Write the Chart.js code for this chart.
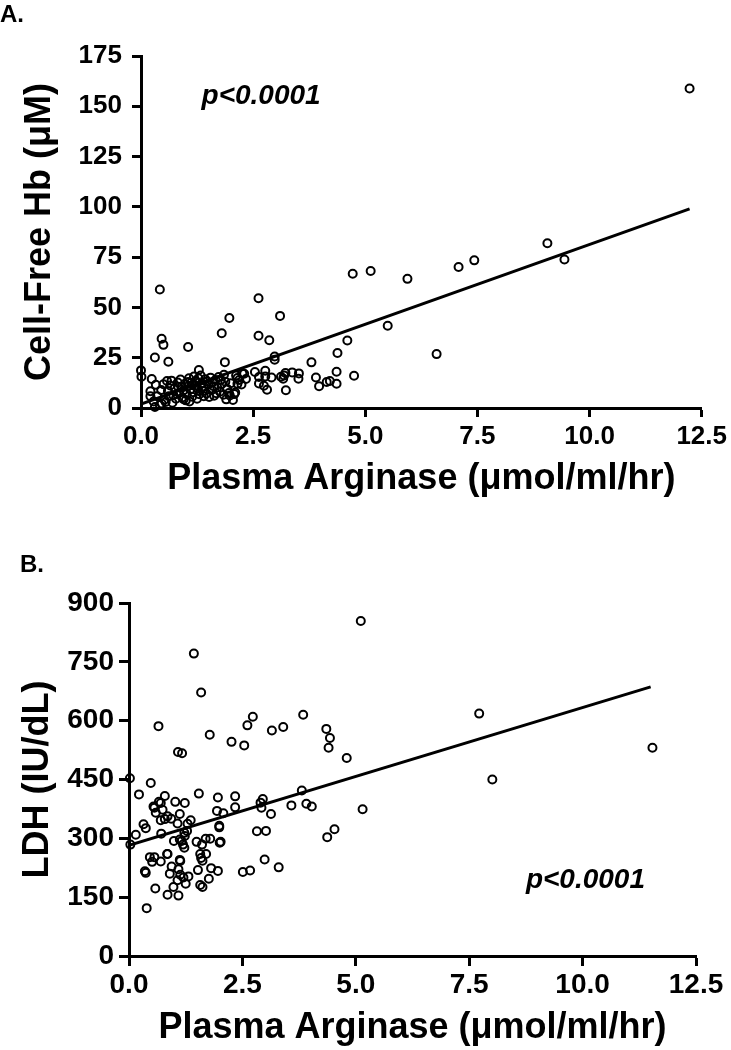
<!DOCTYPE html>
<html>
<head>
<meta charset="utf-8">
<script src="https://cdn.jsdelivr.net/npm/chart.js@4.4.1/dist/chart.umd.min.js"></script>
<style>
  body { margin: 0; background: #fff; width: 731px; height: 1050px; position: relative; overflow: hidden; }
  canvas { position: absolute; left: 0; }
  #chartA { top: 0; }
  #chartB { top: 548px; }
</style>
</head>
<body>
<canvas id="chartA" width="731" height="520"></canvas>
<canvas id="chartB" width="731" height="502"></canvas>
<script>
// tick values
var xTicks = [0, 2.5, 5, 7.5, 10, 12.5];
var hbTicks = [0, 25, 50, 75, 100, 125, 150, 175];
var ldhTicks = [0, 150, 300, 450, 600, 750, 900];

// panel A: plasma arginase vs cell-free Hb
var argA = [12.23, 9.06, 9.44, 7.43, 7.08, 5.94, 5.12, 4.72, 5.50, 6.59, 4.60, 4.38, 4.75, 4.36, 4.36, 4.21, 4.14, 3.97,
  3.90, 3.80, 3.51, 3.52, 3.37, 3.23, 3.22, 3.10, 2.98, 2.98, 2.86, 2.62, 2.62, 2.54, 2.63, 2.77, 2.77, 2.81, 2.74, 2.91,
  3.12, 3.17, 1.97, 1.80, 1.87, 1.05, 1.29, 0.42, 0.46, 0.50, 0.31, 0.61, 0.00, 0.01, 2.26, 2.63, 3.19, 2.15,
  0.24, 0.33, 0.50, 0.21, 0.21, 0.36, 0.31, 0.46, 0.52, 0.42, 0.28,
  0.60, 0.65, 0.68, 0.72, 0.75, 0.78, 0.82, 0.85, 0.88, 0.90, 0.92, 0.95, 0.98, 1.00, 1.02, 1.05, 1.07, 1.10, 1.12, 1.14,
  1.16, 1.18, 1.20, 1.22, 1.25, 1.27, 1.30, 1.33, 1.35, 1.38, 1.40, 1.43, 1.46, 1.50, 1.52, 1.55, 1.58, 1.60, 1.63, 1.66,
  1.70, 1.73, 1.76, 1.80, 1.84, 1.88, 1.92, 1.96, 2.00, 2.05, 2.08, 2.12, 2.15, 2.19, 2.24, 2.34, 2.30,
  0.55, 0.62, 0.70, 0.80, 0.95, 1.08, 1.15, 1.24, 1.36, 1.48, 1.62, 1.78, 1.90, 1.98, 2.10, 0.45, 0.58, 0.83, 1.05, 1.28,
  1.40, 1.68, 1.85];
var hbA = [158.8, 81.9, 73.8, 73.4, 70.1, 64.2, 68.1, 66.7, 40.9, 26.8, 33.6, 27.3, 16.0, 18.0, 12.1, 13.4, 12.9, 10.8,
  15.2, 22.7, 14.6, 17.2, 17.7, 8.8, 17.4, 45.8, 25.6, 24.0, 33.7, 54.6, 35.9, 17.9, 12.2, 18.5, 15.7, 9.1, 11.1, 15.2,
  15.5, 14.6, 44.7, 37.2, 22.8, 30.3, 18.9, 58.9, 34.4, 31.4, 25.1, 23.0, 18.7, 15.5, 17.2, 15.4, 16.2, 12.0,
  14.4, 11.5, 11.8, 8.3, 5.8, 5.8, 0.5, 2.2, 4.1, 1.5, 3.2,
  8.5, 11.2, 13.6, 6.4, 9.8, 4.6, 12.7, 7.5, 14.2, 10.3, 5.2, 8.8, 12.0, 3.8, 6.9, 10.8, 14.8, 9.2, 12.5, 5.6,
  7.8, 15.6, 11.0, 13.4, 4.6, 9.6, 6.8, 16.2, 12.1, 8.4, 10.7, 14.3, 7.2, 11.6, 5.5, 15.1, 9.0, 12.8, 6.1, 13.9,
  10.2, 15.4, 8.1, 11.9, 6.6, 13.1, 9.5, 7.4, 12.3, 4.0, 6.9, 16.1, 14.9, 13.9, 11.7, 14.4, 17.0,
  3.0, 5.9, 2.6, 7.0, 4.4, 3.2, 11.5, 13.0, 10.0, 13.2, 10.8, 14.0, 4.3, 6.2, 7.7, 8.9, 13.4, 10.6, 12.9, 14.8,
  5.9, 7.3, 16.5];
var fitAx = [0, 12.23];
var fitAy = [2, 99];

// panel B: plasma arginase vs LDH
var argB = [5.11, 1.43, 1.59, 0.65, 2.73, 2.61, 1.78, 3.15, 3.40, 3.84, 4.35, 4.43, 4.40, 4.80, 2.26, 2.54, 1.08, 1.17,
  7.72, 8.01, 11.54, 5.15,
  0.02, 0.48, 0.22, 1.54, 0.79, 1.96, 2.34, 2.95, 2.90, 3.81, 3.91, 4.03, 3.58, 2.34, 2.92, 3.13, 1.94, 2.08,
  1.02, 1.23, 0.70, 0.56, 0.74, 0.59, 1.12, 0.85, 0.93, 0.70, 0.79, 1.07, 1.36, 1.29, 1.99, 1.99, 0.32, 0.37, 0.15, 0.71,
  1.28, 1.23, 1.12, 0.99, 1.19, 1.22, 0.03, 2.82, 3.02, 4.37, 4.53, 1.49, 1.61, 1.69, 1.79, 2.02, 2.00,
  1.57, 1.70, 1.59, 1.62, 0.46, 0.56, 0.51, 0.70, 0.85, 1.13, 0.94, 1.09, 1.81, 1.96, 1.52, 0.35, 0.37, 0.90, 1.13, 1.20,
  1.31, 1.07, 1.76, 1.25, 0.98, 1.57, 1.62, 0.58, 0.85, 1.09, 0.39, 2.51, 2.67, 2.99, 3.30,
  0.54, 0.66, 1.22, 1.16, 1.12, 0.84];
var ldhB = [854, 771, 672, 586, 610, 588, 564, 575, 584, 615, 579, 556, 531, 505, 546, 537, 520, 517,
  618, 450, 531, 374,
  453, 441, 412, 414, 408, 404, 407, 400, 391, 422, 388, 381, 384, 379, 378, 362, 370, 364,
  393, 390, 390, 378, 373, 365, 362, 356, 350, 346, 349, 338, 346, 337, 332, 328, 336, 326, 309, 312,
  319, 306, 297, 293, 284, 276, 284, 318, 319, 303, 323, 291, 284, 299, 299, 291, 289,
  260, 260, 250, 243, 252, 252, 240, 241, 260, 242, 228, 221, 224, 217, 219, 216, 212, 210, 207, 200,
  203, 193, 197, 184, 176, 181, 176, 172, 156, 154, 122, 214, 218, 246, 226,
  381, 393, 314, 293, 245, 260];
var fitBx = [0, 11.5];
var fitBy = [282, 686];

var FONT = "'Liberation Sans', Arial, Helvetica, sans-serif";
Chart.defaults.font.family = FONT;
Chart.defaults.color = '#000';

function pairs(xs, ys) {
  return xs.map(function(v, i) { return {x: v, y: ys[i]}; });
}

// free text (panel tag + p value)
var notesPlugin = {
  id: 'notes',
  afterDatasetsDraw: function(chart, args, opts) {
    var ctx = chart.ctx;
    ctx.save();
    ctx.fillStyle = '#000';
    (opts.items || []).forEach(function(it) {
      var px = it.x, py = it.y;
      if (it.data) {
        px = chart.scales.x.getPixelForValue(it.x);
        py = chart.scales.y.getPixelForValue(it.y);
      }
      ctx.font = it.font;
      ctx.textAlign = 'left';
      ctx.textBaseline = it.baseline || 'alphabetic';
      ctx.fillText(it.text, px, py);
    });
    ctx.restore();
  }
};

function makePanel(id, c) {
  return new Chart(document.getElementById(id), {
    type: 'scatter',
    data: {
      datasets: [{
        type: 'line',
        data: pairs(c.fitX, c.fitY),
        borderColor: '#000',
        borderWidth: 3,
        pointRadius: 0,
        fill: false,
        order: 0
      }, {
        data: pairs(c.xs, c.ys),
        pointRadius: 4,
        pointBorderWidth: 2,
        pointBorderColor: '#000',
        pointBackgroundColor: 'rgba(0,0,0,0)',
        clip: false,
        order: 1
      }]
    },
    options: {
      responsive: false,
      devicePixelRatio: 1,
      animation: false,
      events: [],
      layout: { padding: { left: 0, top: c.top, right: c.right, bottom: 0 } },
      plugins: {
        legend: { display: false },
        tooltip: { enabled: false },
        notes: { items: c.notes }
      },
      scales: {
        x: {
          type: 'linear',
          min: 0,
          max: 12.5,
          afterBuildTicks: function(s) { s.ticks = xTicks.map(function(v) { return {value: v}; }); },
          afterFit: function(s) { s.height = c.xHeight; },
          border: { display: true, color: '#000', width: 3 },
          grid: { display: true, drawOnChartArea: false, drawTicks: true, tickLength: c.tickLen, tickWidth: 3, tickColor: '#000', color: '#000' },
          ticks: {
            color: '#000', font: { size: c.tickSize, weight: 'bold' }, padding: c.xPad,
            maxRotation: 0, autoSkip: false,
            callback: function(v) { return Number(v).toFixed(1); }
          },
          title: {
            display: true, text: 'Plasma Arginase (μmol/ml/hr)', color: '#000',
            font: { size: 36, weight: 'bold' }, padding: { top: 0, bottom: c.xTitlePad }
          }
        },
        y: {
          type: 'linear',
          min: 0,
          max: c.yTicks[c.yTicks.length - 1],
          afterBuildTicks: function(s) { s.ticks = c.yTicks.map(function(v) { return {value: v}; }); },
          afterFit: function(s) { s.width = c.yWidth; },
          border: { display: true, color: '#000', width: 3 },
          grid: { display: true, drawOnChartArea: false, drawTicks: true, tickLength: c.tickLen, tickWidth: 3, tickColor: '#000', color: '#000' },
          ticks: { color: '#000', font: { size: c.tickSize, weight: 'bold' }, padding: c.yPad },
          title: {
            display: true, text: c.yTitle, color: '#000',
            font: { size: 36, weight: 'bold' }, padding: { top: c.yTitlePad, bottom: 0 }
          }
        }
      }
    },
    plugins: [notesPlugin]
  });
}

makePanel('chartA', {
  xs: argA, ys: hbA, fitX: fitAx, fitY: fitAy, yTicks: hbTicks,
  yTitle: 'Cell-Free Hb (μM)',
  top: 56, right: 25, xHeight: 112, yWidth: 141,
  tickLen: 9, tickSize: 26, xPad: 4, yPad: 10, xTitlePad: 19, yTitlePad: 18,
  notes: [
    { text: 'A.', x: 0, y: 22, font: 'bold 24px ' + FONT },
    { text: 'p<0.0001', data: true, x: 1.35, y: 155, baseline: 'middle', font: 'italic bold 28px ' + FONT }
  ]
});

makePanel('chartB', {
  xs: argB, ys: ldhB, fitX: fitBx, fitY: fitBy, yTicks: ldhTicks,
  yTitle: 'LDH (IU/dL)',
  top: 55, right: 35, xHeight: 94, yWidth: 129,
  tickLen: 10, tickSize: 28, xPad: 2, yPad: 5, xTitlePad: 0, yTitlePad: 16,
  notes: [
    { text: 'B.', x: 20, y: 24, font: 'bold 24px ' + FONT },
    { text: 'p<0.0001', data: true, x: 8.75, y: 194, baseline: 'middle', font: 'italic bold 28px ' + FONT }
  ]
});
</script>
</body>
</html>
